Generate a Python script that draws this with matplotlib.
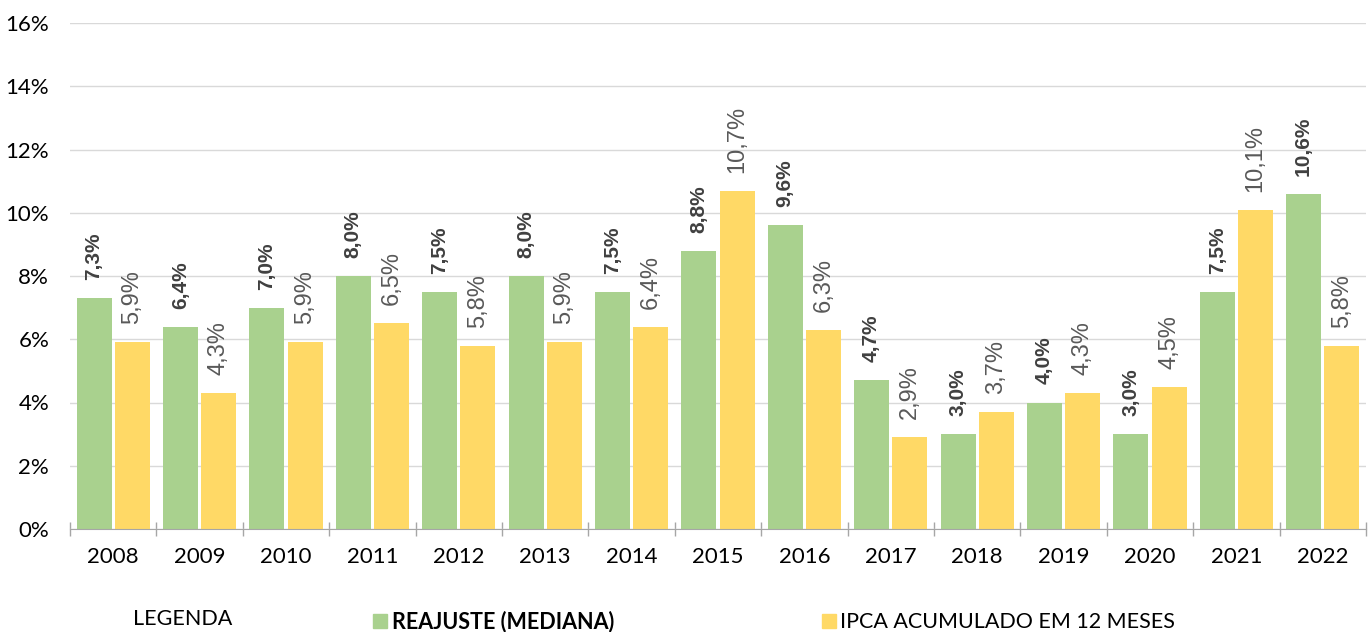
import numpy as np
import matplotlib.pyplot as plt
from matplotlib.patches import Rectangle

anos = ["2008", "2009", "2010", "2011", "2012", "2013", "2014", "2015",
        "2016", "2017", "2018", "2019", "2020", "2021", "2022"]
reajuste = [7.3, 6.4, 7.0, 8.0, 7.5, 8.0, 7.5, 8.8, 9.6, 4.7, 3.0, 4.0, 3.0, 7.5, 10.6]
ipca = [5.9, 4.3, 5.9, 6.5, 5.8, 5.9, 6.4, 10.7, 6.3, 2.9, 3.7, 4.3, 4.5, 10.1, 5.8]

VERDE = "#a9d18e"
AMARELO = "#ffd966"

fig = plt.figure(figsize=(13.68, 6.32), dpi=100)
ax = fig.add_axes([70 / 1368, 1 - 529 / 632, 1296 / 1368, 506 / 632])

x = np.arange(len(anos))
w = 0.405
ax.bar(x - 0.222, reajuste, w, color=VERDE, zorder=2)
ax.bar(x + 0.222, ipca, w, color=AMARELO, zorder=2)

for xi, v in zip(x, reajuste):
    ax.annotate(f"{v:.1f}%".replace(".", ","), (xi - 0.222, v), xytext=(0, 13),
                textcoords="offset points", rotation=90, ha="center", va="bottom",
                fontsize=15, fontweight="bold", color="#404040",
                family="Liberation Sans")
for xi, v in zip(x, ipca):
    ax.annotate(f"{v:.1f}%".replace(".", ","), (xi + 0.222, v), xytext=(0, 13),
                textcoords="offset points", rotation=90, ha="center", va="bottom",
                fontsize=17, color="#595959", family="Liberation Sans")

ax.set_xlim(-0.5, len(anos) - 0.5)
ax.set_ylim(0, 16)
ax.set_yticks(range(0, 17, 2))
ax.set_yticklabels([f"{t}%" for t in range(0, 17, 2)], family="Lato", fontsize=16)
ax.yaxis.grid(True, color="#d9d9d9", linewidth=1, zorder=0)
ax.tick_params(axis="y", length=0, pad=15)

ax.set_xticks(x)
ax.set_xticklabels(anos, family="Lato", fontsize=16)
ax.tick_params(axis="x", length=0, pad=13)
ax.set_xticks(np.arange(-0.5, len(anos), 1), minor=True)
ax.tick_params(axis="x", which="minor", length=9.5, direction="inout",
               color="#a6a6a6", width=1)

for s in ["top", "right", "left"]:
    ax.spines[s].set_visible(False)
ax.spines["bottom"].set_color("#a6a6a6")

# legenda
fig.text(133 / 1368, 1 - 619 / 632, "LEGENDA", family="Lato", fontsize=15.5,
         va="center", ha="left", color="#000000")
fig.patches.append(Rectangle((373 / 1368, 1 - 628 / 632), 14 / 1368, 14 / 632,
                             transform=fig.transFigure, color=VERDE))
fig.text(392 / 1368, 1 - 622 / 632, "REAJUSTE (MEDIANA)", family="Lato",
         fontsize=15.5, fontweight="bold", va="center", ha="left")
fig.patches.append(Rectangle((822 / 1368, 1 - 628 / 632), 14 / 1368, 14 / 632,
                             transform=fig.transFigure, color=AMARELO))
fig.text(840 / 1368, 1 - 622 / 632, "IPCA ACUMULADO EM 12 MESES", family="Lato",
         fontsize=15.5, va="center", ha="left")

fig.savefig("out.png", dpi=100)
